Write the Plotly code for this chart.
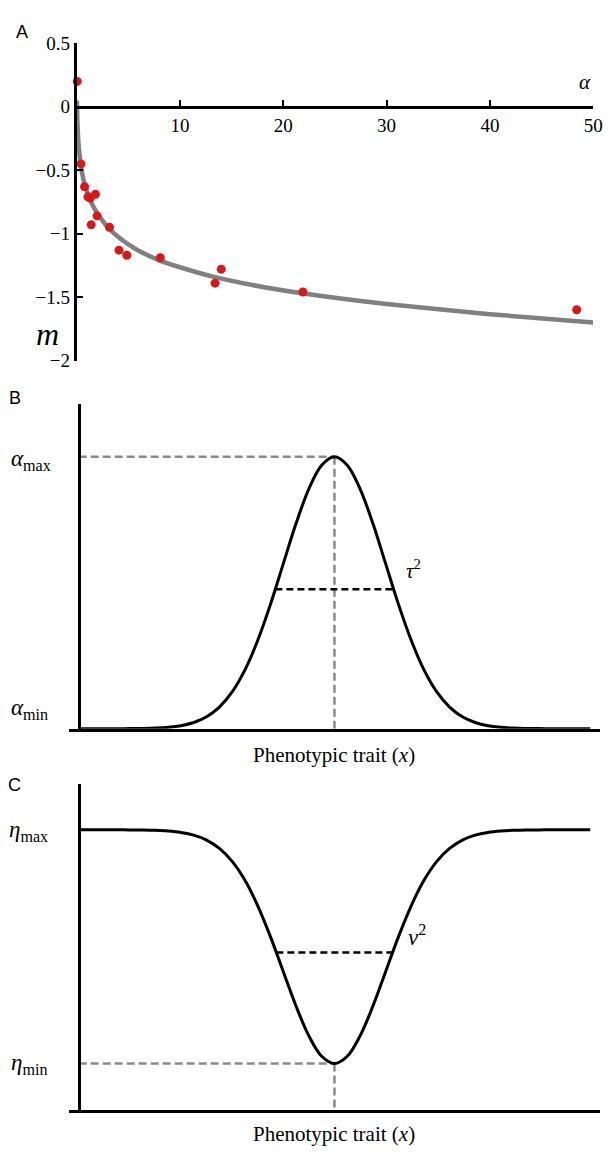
import plotly.graph_objects as go

W, H = 615, 1155

# ---------------- Panel A data ----------------
alpha_obs = [0.05, 0.41, 0.76, 1.08, 1.30, 1.81, 1.97, 1.40, 3.17, 4.09, 4.85, 8.09, 13.39, 13.99, 21.9, 48.4]
m_obs = [0.20, -0.45, -0.63, -0.71, -0.72, -0.69, -0.86, -0.93, -0.95, -1.13, -1.17, -1.19, -1.39, -1.28, -1.46, -1.60]

alpha_fit = [0.02, 0.05, 0.1, 0.2, 0.4, 0.7, 1.0, 1.5, 2, 3, 4, 5, 6, 8, 10, 13, 17, 22, 30, 40, 50]
m_fit = [0.05, -0.08, -0.19, -0.32, -0.46, -0.59, -0.67, -0.77, -0.84, -0.95, -1.025, -1.085, -1.135,
         -1.21, -1.265, -1.335, -1.405, -1.472, -1.555, -1.635, -1.70]

a_xticks = [10, 20, 30, 40, 50]
a_yticks = [0.5, 0, -0.5, -1, -1.5, -2]
a_yticktext = ["0.5", "0", "\u22120.5", "\u22121", "\u22121.5", "\u22122"]

# ---------------- Panels B and C data ----------------
trait_x = [-5.0, -4.75, -4.5, -4.25, -4.0, -3.75, -3.5, -3.25, -3.0, -2.75, -2.5, -2.25, -2.0,
           -1.75, -1.5, -1.25, -1.0, -0.75, -0.5, -0.25, 0.0, 0.25, 0.5, 0.75, 1.0, 1.25,
           1.5, 1.75, 2.0, 2.25, 2.5, 2.75, 3.0, 3.25, 3.5, 3.75, 4.0, 4.25, 4.5, 4.75, 5.0]
alpha_curve = [0.0, 0.0, 0.0, 0.0, 0.0003, 0.0009, 0.0022, 0.0051, 0.0111, 0.0228, 0.0439, 0.0796, 0.135,
               0.216, 0.325, 0.458, 0.607, 0.755, 0.882, 0.969, 1.0, 0.969, 0.882, 0.755, 0.607, 0.458,
               0.325, 0.216, 0.135, 0.0796, 0.0439, 0.0228, 0.0111, 0.0051, 0.0022, 0.0009, 0.0003, 0.0, 0.0, 0.0, 0.0]
eta_curve = [1.0, 1.0, 1.0, 1.0, 0.9997, 0.9991, 0.9978, 0.9949, 0.9889, 0.9772, 0.9561, 0.9204, 0.865,
             0.784, 0.675, 0.542, 0.393, 0.245, 0.118, 0.031, 0.0, 0.031, 0.118, 0.245, 0.393, 0.542,
             0.675, 0.784, 0.865, 0.9204, 0.9561, 0.9772, 0.9889, 0.9949, 0.9978, 0.9991, 0.9997, 1.0, 1.0, 1.0, 1.0]

peak_x = 0.0
alpha_max, alpha_min = 1.0, 0.0
eta_max, eta_min = 1.0, 0.0
tau_level, tau_half = 0.513, 1.155
nu_level, nu_half = 0.475, 1.136

SERIF = "Liberation Serif, Times New Roman, serif"
SANS = "Liberation Sans, Arial, sans-serif"


def px(x):
    return x / W


def py(y):
    return 1 - y / H


fig = go.Figure()

# Panel A
fig.add_trace(go.Scatter(x=alpha_fit, y=m_fit, mode="lines",
                         line=dict(color="#808080", width=4.5, shape="spline", smoothing=0.6),
                         xaxis="x", yaxis="y", hoverinfo="skip", showlegend=False, cliponaxis=False))
fig.add_trace(go.Scatter(x=alpha_obs, y=m_obs, mode="markers", marker=dict(color="#d3191c", size=9),
                         xaxis="x", yaxis="y", showlegend=False, cliponaxis=False))

# Panel B
fig.add_trace(go.Scatter(x=trait_x, y=alpha_curve, mode="lines", line=dict(color="black", width=3, shape="spline"),
                         xaxis="x2", yaxis="y2", showlegend=False, cliponaxis=False))
# Panel C
fig.add_trace(go.Scatter(x=trait_x, y=eta_curve, mode="lines", line=dict(color="black", width=3, shape="spline"),
                         xaxis="x3", yaxis="y3", showlegend=False, cliponaxis=False))

xr = [(70 - 340) / 52, (610 - 340) / 52]
yr_b = [0, (732 - 401) / 277]
yr_c = [-(1120 - 1073) / 238, (1073 - 788) / 238]

axis_common = dict(showgrid=False, zeroline=False, showline=True, linecolor="black", linewidth=3)

fig.update_layout(
    width=W, height=H, margin=dict(l=0, r=0, t=0, b=0),
    paper_bgcolor="white", plot_bgcolor="rgba(0,0,0,0)",
    xaxis=dict(domain=[px(78), px(603)], range=[0, 50], anchor="free", position=py(98.6),
               tickvals=a_xticks, ticks="inside", ticklen=6, tickwidth=2, tickcolor="black",
               tickfont=dict(family=SERIF, size=19, color="black"), **axis_common),
    yaxis=dict(domain=[py(357), py(34)], range=[-2, 0.5], anchor="x",
               tickvals=a_yticks, ticktext=a_yticktext, ticks="inside", ticklen=6, tickwidth=2, tickcolor="black",
               tickfont=dict(family=SERIF, size=19, color="black"), **axis_common),
    xaxis2=dict(domain=[px(70), px(610)], range=xr, anchor="y2", showticklabels=False, ticks="", **axis_common),
    yaxis2=dict(domain=[py(732), py(401)], range=yr_b, anchor="free", position=px(80),
                showticklabels=False, ticks="", **axis_common),
    xaxis3=dict(domain=[px(70), px(610)], range=xr, anchor="y3", showticklabels=False, ticks="", **axis_common),
    yaxis3=dict(domain=[py(1120), py(788)], range=yr_c, anchor="free", position=px(80),
                showticklabels=False, ticks="", **axis_common),
)

gray = dict(color="#8a8a8a", width=2.5, dash="8px,4px")
blk = dict(color="black", width=2.5, dash="7px,4px")
x_axis_pos = xr[0] + (80 - 70) / 52

shapes = [
    # Panel B
    dict(type="line", xref="x2", yref="y2", x0=x_axis_pos, x1=peak_x, y0=alpha_max, y1=alpha_max, line=gray, layer="below"),
    dict(type="line", xref="x2", yref="y2", x0=peak_x, x1=peak_x, y0=alpha_max, y1=yr_b[0], line=gray, layer="below"),
    dict(type="line", xref="x2", yref="y2", x0=peak_x - tau_half, x1=peak_x + tau_half, y0=tau_level, y1=tau_level, line=blk, layer="below"),
    # Panel C
    dict(type="line", xref="x3", yref="y3", x0=x_axis_pos, x1=peak_x, y0=eta_min, y1=eta_min, line=gray, layer="below"),
    dict(type="line", xref="x3", yref="y3", x0=peak_x, x1=peak_x, y0=eta_min, y1=yr_c[0], line=gray, layer="below"),
    dict(type="line", xref="x3", yref="y3", x0=peak_x - nu_half, x1=peak_x + nu_half, y0=nu_level, y1=nu_level, line=blk, layer="below"),
]
fig.update_layout(shapes=shapes)

ann = []


def a(text, x, y, size, family=SERIF, xanchor="center", yanchor="middle"):
    ann.append(dict(text=text, x=px(x), y=py(y), xref="paper", yref="paper", showarrow=False,
                    font=dict(family=family, size=size, color="black"), xanchor=xanchor, yanchor=yanchor))


a("A", 22, 22, 18, SANS)
a("B", 15, 395, 18, SANS)
a("C", 15, 789, 18, SANS)
a("<i>α</i>", 595, 73, 21)
a("<i>m</i>", 48, 330, 32)
a("<i>α</i><sub>max</sub>", 9, 458, 23, xanchor="left")
a("<i>α</i><sub>min</sub>", 9, 712, 23, xanchor="left")
a("<i>τ</i><sup>2</sup>", 420, 570, 21)
a("Phenotypic trait (<i>x</i>)", 340, 759, 21)
a("<i>η</i><sub>max</sub>", 7, 836, 23, xanchor="left")
a("<i>η</i><sub>min</sub>", 9, 1074, 23, xanchor="left")
a("<i>ν</i><sup>2</sup>", 424, 943, 23)
a("Phenotypic trait (<i>x</i>)", 340, 1145, 21)
fig.update_layout(annotations=ann)

fig.write_html("out.html")
